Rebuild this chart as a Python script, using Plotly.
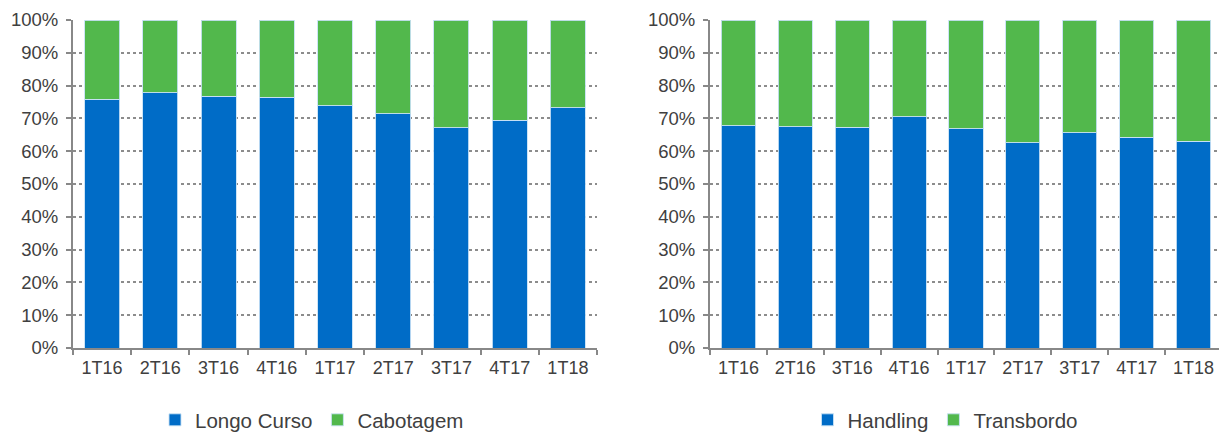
import plotly.graph_objects as go

categories = ["1T16", "2T16", "3T16", "4T16", "1T17", "2T17", "3T17", "4T17", "1T18"]
longo_curso = [75.9, 77.8, 76.7, 76.5, 73.9, 71.4, 67.2, 69.5, 73.2]
cabotagem = [round(100 - v, 1) for v in longo_curso]
handling = [67.8, 67.4, 67.3, 70.5, 66.8, 62.6, 65.6, 64.3, 63.1]
transbordo = [round(100 - v, 1) for v in handling]

BLUE = "#006CC7"
GREEN = "#52B84C"
FONT = "Liberation Sans, Arial, sans-serif"
TXT = "#404040"

W, H = 1219, 427
OFF = 8  # default page body margin

fig = go.Figure()
line = dict(color="rgba(200,225,245,0.9)", width=1)

def add(x, y, name, color, xa, ya, legend):
    fig.add_trace(go.Bar(x=x, y=[v / 100 for v in y], name=name, marker=dict(color=color, line=line),
                         xaxis=xa, yaxis=ya, legend=legend, width=0.6))

add(categories, longo_curso, "Longo Curso", BLUE, "x", "y", "legend")
add(categories, cabotagem, "Cabotagem", GREEN, "x", "y", "legend")
add(categories, handling, "Handling", BLUE, "x2", "y2", "legend2")
add(categories, transbordo, "Transbordo", GREEN, "x2", "y2", "legend2")

xcommon = dict(showline=True, linecolor="#888888", linewidth=2, ticks="outside", tickson="boundaries",
               ticklen=5, tickcolor="#888888", tickwidth=2, showgrid=False, ticklabelstandoff=2,
               tickfont=dict(family=FONT, size=18, color=TXT), fixedrange=True)
ycommon = dict(range=[0, 1], dtick=0.1, tickformat=".0%", showline=True, linecolor="#888888", linewidth=2,
               ticks="outside", ticklen=5, tickcolor="#888888", tickwidth=2, ticklabelstandoff=4,
               showgrid=True, gridcolor="#8c8c8c", griddash="dot", gridwidth=1.5,
               tickfont=dict(family=FONT, size=18.5, color=TXT), zeroline=False)

PLOT_BOTTOM = 348 - OFF
legcommon = dict(orientation="h", xanchor="center", yref="container", y=(H - (420 - OFF)) / H,
                 yanchor="middle", itemwidth=30,
                 font=dict(family=FONT, size=20.5, color=TXT), bgcolor="rgba(0,0,0,0)", traceorder="normal",
                 itemclick=False)

fig.update_layout(
    barmode="stack",
    width=W, height=H,
    margin=dict(l=0, r=0, t=20 - OFF, b=H - PLOT_BOTTOM, autoexpand=False),
    paper_bgcolor="white", plot_bgcolor="white",
    xaxis=dict(domain=[(73 - OFF) / W, (597 - OFF) / W], **xcommon),
    yaxis=dict(anchor="x", **ycommon),
    xaxis2=dict(domain=[(710 - OFF) / W, (1222 - OFF) / W], anchor="y2", **xcommon),
    yaxis2=dict(anchor="x2", **ycommon),
    legend=dict(x=(312 - OFF) / W, **legcommon),
    legend2=dict(x=(945 - OFF) / W, **legcommon),
)

fig.write_html("out.html")
